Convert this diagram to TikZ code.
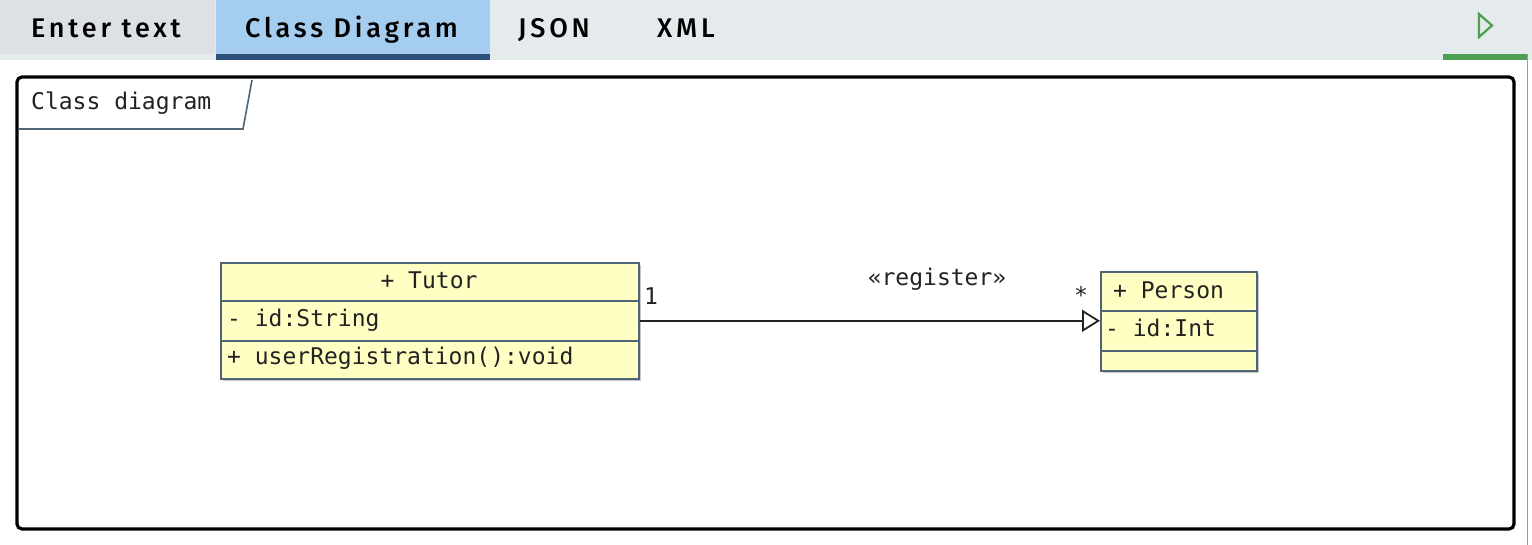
\documentclass[tikz,border=0pt]{standalone}
\usepackage{fontspec}
\setmainfont{DejaVu Sans Mono}
\newfontfamily\tabfont[LetterSpace=14, UprightFont={* Medium}]{Fira Sans}
\newfontfamily\monofont{DejaVu Sans Mono}
\usetikzlibrary{arrows.meta}
\definecolor{barbg}{HTML}{E5EAED}
\definecolor{tabgray}{HTML}{DDE1E6}
\definecolor{tabblue}{HTML}{A4CDF0}
\definecolor{tabline}{HTML}{2C5079}
\definecolor{playgreen}{HTML}{4C9F50}
\definecolor{clsfill}{HTML}{FFFFC4}
\definecolor{clsline}{HTML}{4F6474}
\definecolor{shadowc}{HTML}{C8C8C8}
\definecolor{txt}{HTML}{222222}
\tikzset{
  tablabel/.style={font=\tabfont\fontsize{27}{31}\selectfont, text=black, inner sep=0pt, anchor=base west},
  comp/.style={draw=clsline, line width=1.6pt, fill=clsfill, inner sep=0pt, anchor=north west},
  mtext/.style={font=\monofont\fontsize{23}{27}\selectfont, text=txt, inner sep=0pt, anchor=base west},
  assoc/.style={line width=2pt, draw=txt, -{Triangle[open, length=18pt, width=22pt, line width=1.8pt]}},
}
\begin{document}
\begin{tikzpicture}[x=1pt, y=-1pt]
\useasboundingbox (0,0) rectangle (1532,545);
\fill[white] (0,0) rectangle (1532,545);
% tab bar
\fill[barbg] (0,0) rectangle (1532,60);
\fill[tabgray] (0,0) rectangle (215,54);
\fill[tabblue] (216,0) rectangle (490,54);
\fill[tabline] (216,54) rectangle (490,60);
\fill[playgreen] (1443,54) rectangle (1528,60);
\fill[white] (0,60) rectangle (1526,545);
\draw[gray!80, line width=1.5pt] (1527.5,54) -- (1527.5,545);
\node[tablabel] (t1) at (31,38) {Enter text};
\node[tablabel] (t2) at (245,38) {Class Diagram};
\node[tablabel] (t3) at (518,38) {JSON};
\node[tablabel] (t4) at (657,38) {XML};
\draw[playgreen, line width=2.2pt, line join=miter] (1479,14) -- (1479,37) -- (1492,25.5) -- cycle;
% frame
\draw[black, line width=3.2pt, rounded corners=5pt] (17,77) rectangle (1514,529);
\node[mtext] (frametitle) at (31,110) {Class diagram};
\draw[clsline, line width=1.6pt] (19,129) -- (243,129) -- (252,80);
% shadows
\fill[shadowc] (223,265) rectangle (641,381);
\fill[shadowc] (1103,274) rectangle (1259,373);
% Tutor
\node[comp, minimum width=418pt, minimum height=38pt] (tutorH) at (220,262) {};
\node[comp, minimum width=418pt, minimum height=40pt] (tutorA) at (220,300) {};
\node[comp, minimum width=418pt, minimum height=38pt] (tutorM) at (220,340) {};
\node[mtext, anchor=base] (tutorN) at (429,289) {+ Tutor};
\node[mtext] (tutorAt) at (227,327) {- id:String};
\node[mtext] (tutorMt) at (227,365) {+ userRegistration():void};
% Person
\node[comp, minimum width=156pt, minimum height=39pt] (personH) at (1100,271) {};
\node[comp, minimum width=156pt, minimum height=40pt] (personA) at (1100,310) {};
\node[comp, minimum width=156pt, minimum height=20pt] (personM) at (1100,350) {};
\node[mtext] (personN) at (1113,299) {+ Person};
\node[mtext] (personAt) at (1105,337) {- id:Int};
% association
\draw[assoc] (tutorA.east) -- (tutorA.east -| personA.west);
\node[mtext] (m1) at (644,305) {1};
\node[mtext, anchor=base] (stereo) at (937,286) {«register»};
\node[mtext] (m2) at (1074,304) {*};
\end{tikzpicture}
\end{document}
